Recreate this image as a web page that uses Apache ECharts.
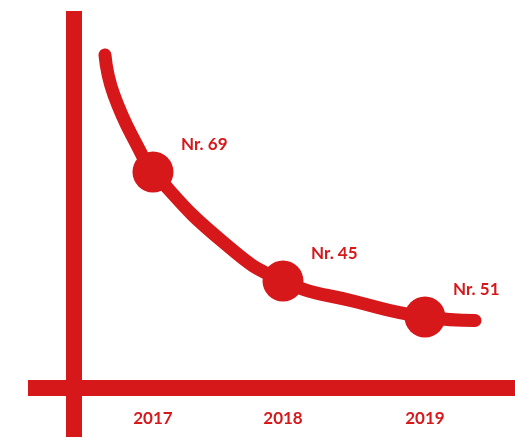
<!DOCTYPE html>
<html>
<head>
<meta charset="utf-8">
<script src="https://cdn.jsdelivr.net/npm/echarts@6/dist/echarts.min.js"></script>
<style>
html,body{margin:0;padding:0;background:#fff;}
#chart{width:515px;height:437px;}
</style>
</head>
<body>
<div id="chart"></div>
<script>
// Year labels and their positions along the horizontal axis
var yearLabels = ['2017', '2018', '2019'];
var yearPos = [2017, 2017.956, 2019];
// Ranking labels at the three highlighted points
var rankLabels = ['Nr. 69', 'Nr. 45', 'Nr. 51'];
// Heights of the three highlighted points (decorative scale)
var pointY = [43.1, 21.3, 14.1];
// Curve trace (x position, height)
var curveX = [2016.647, 2016.713, 2016.908, 2017, 2017.515, 2017.956, 2018.485, 2019, 2019.368];
var curveY = [66.5, 58.5, 47.1, 43.1, 29.1, 21.3, 17.2, 14.1, 13.4];

var RED = '#d6181b';
var FONT = 'Lato, "Open Sans", sans-serif';

var lineData = curveX.map(function (x, i) { return [x, curveY[i]]; });
var dotData = yearPos.map(function (x, i) { return { value: [x, pointY[i]], name: rankLabels[i] }; });

var chart = echarts.init(document.getElementById('chart'), null, { renderer: 'canvas' });
chart.setOption({
  animation: false,
  backgroundColor: '#ffffff',
  grid: { left: 28, right: 0, top: 11, bottom: 0, containLabel: false, outerBoundsMode: 'none' },
  xAxis: {
    type: 'value',
    min: 2016.081,
    max: 2019.662,
    axisLine: { show: true, onZero: true, lineStyle: { color: RED, width: 16, cap: 'butt' } },
    axisTick: { show: false },
    splitLine: { show: false },
    axisLabel: {
      show: true,
      customValues: yearPos,
      margin: -26.5,
      color: RED,
      fontFamily: FONT,
      fontWeight: 'bold',
      fontSize: 17,
      formatter: function (v) {
        var best = 0, d = Infinity;
        for (var i = 0; i < yearPos.length; i++) {
          if (Math.abs(yearPos[i] - v) < d) { d = Math.abs(yearPos[i] - v); best = i; }
        }
        return yearLabels[best];
      }
    }
  },
  yAxis: {
    type: 'value',
    min: -9.9,
    max: 75.3,
    offset: -45.5,
    axisLine: { show: true, onZero: false, lineStyle: { color: RED, width: 16, cap: 'butt' } },
    axisTick: { show: false },
    splitLine: { show: false },
    axisLabel: { show: false }
  },
  series: [
    {
      type: 'line',
      data: lineData,
      smooth: 0.5,
      symbol: 'none',
      lineStyle: { color: RED, width: 13, cap: 'round', join: 'round' },
      z: 3
    },
    {
      type: 'scatter',
      data: dotData,
      symbol: 'circle',
      symbolSize: 41,
      itemStyle: { color: RED, opacity: 1 },
      label: {
        show: true,
        position: 'right',
        distance: 7.5,
        offset: [0, -27.5],
        formatter: function (p) { return p.name; },
        color: RED,
        fontFamily: FONT,
        fontWeight: 'bold',
        fontSize: 17
      },
      z: 4
    }
  ]
});
</script>
</body>
</html>
